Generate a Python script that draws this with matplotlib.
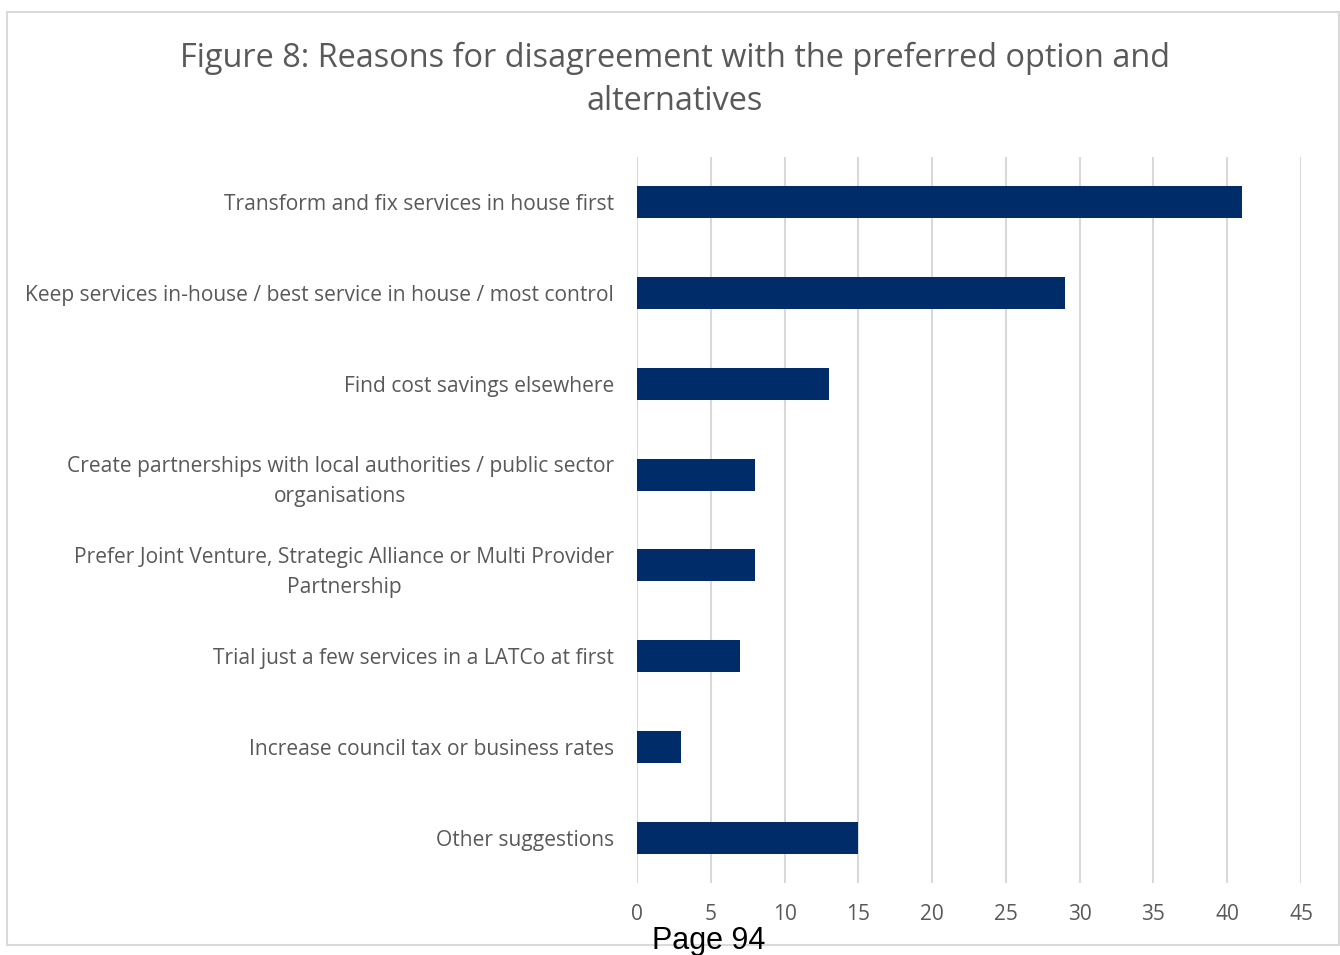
import matplotlib.pyplot as plt
from matplotlib.patches import Rectangle

# survey counts, top to bottom
categories = [
    'Transform and fix services in house first',
    'Keep services in-house / best service in house / most control',
    'Find cost savings elsewhere',
    'Create partnerships with local authorities / public sector\norganisations',
    'Prefer Joint Venture, Strategic Alliance or Multi Provider\nPartnership',
    'Trial just a few services in a LATCo at first',
    'Increase council tax or business rates',
    'Other suggestions',
]
counts = [41, 29, 13, 8, 8, 7, 3, 15]
xticks = list(range(0, 50, 5))

bar_color = '#002c6a'
text_color = '#595959'
grid_color = '#d9d9d9'

plt.rcParams['font.family'] = ['Open Sans', 'DejaVu Sans']

fig = plt.figure(figsize=(13.4, 9.55), dpi=100)
W, H = 1340, 955

# chart border
fig.patches.append(Rectangle((7 / W, 1 - 945 / H), (1339 - 7) / W, (945 - 12) / H,
                             transform=fig.transFigure, fill=False,
                             edgecolor=grid_color, linewidth=1.5))

ax = fig.add_axes([637 / W, 1 - 883 / H, (1301 - 637) / W, (883 - 157) / H])
pos = list(range(len(categories)))
ax.barh(pos, counts, height=0.35, color=bar_color, zorder=3)
ax.set_ylim(len(categories) - 0.5, -0.5)
ax.set_xlim(0, 45)
ax.set_xticks(xticks)
ax.set_yticks(pos)
ax.set_yticklabels(categories, fontsize=15.1, color=text_color,
                   ha='right', multialignment='center', linespacing=1.55)
ax.tick_params(axis='y', length=0, pad=16.5)
ax.tick_params(axis='x', length=0, pad=15, labelsize=15, labelcolor=text_color)
ax.grid(axis='x', color=grid_color, linewidth=1.5, zorder=0)
for s in ax.spines.values():
    s.set_visible(False)

fig.text(675 / W, 1 - 80 / H,
         'Figure 8: Reasons for disagreement with the preferred option and\nalternatives',
         ha='center', va='center', fontsize=23.4, color=text_color, linespacing=1.4)

fig.text(709 / W, 1 - 941 / H, 'Page 94', ha='center', va='center',
         fontsize=22, color='black', family='Liberation Sans')

fig.savefig('out.png', dpi=100)
